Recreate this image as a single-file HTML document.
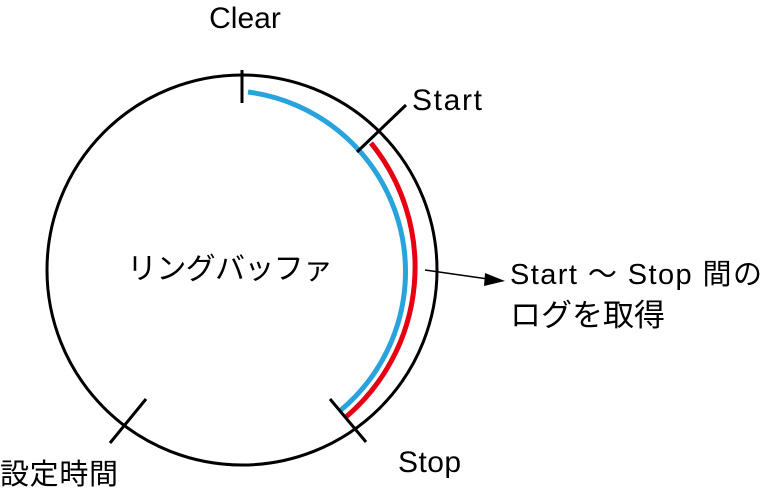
<!DOCTYPE html>
<html><head><meta charset="utf-8"><style>
body{margin:0;background:#fff}
svg text{font-family:"Liberation Sans","Noto Sans CJK JP",sans-serif;fill:#000}
</style></head><body>
<svg width="771" height="492" viewBox="0 0 771 492" xmlns="http://www.w3.org/2000/svg">
<circle cx="242" cy="270" r="195" fill="none" stroke="#000" stroke-width="3"/>
<path d="M248 92 A181 181 0 0 1 341 410" fill="none" stroke="#29a3dd" stroke-width="5"/>
<path d="M371 143 A197 197 0 0 1 346 417" fill="none" stroke="#e60012" stroke-width="5"/>
<line x1="242" y1="70" x2="242" y2="103" stroke="#000" stroke-width="3"/>
<line x1="357" y1="152" x2="406" y2="105" stroke="#000" stroke-width="3"/>
<line x1="330" y1="399" x2="366" y2="442" stroke="#000" stroke-width="3"/>
<line x1="146" y1="399" x2="110" y2="443" stroke="#000" stroke-width="3"/>
<line x1="425" y1="270" x2="488" y2="279" stroke="#000" stroke-width="1.5"/>
<polygon points="505,281 485,273 484,286" fill="#000"/>
<text x="245" y="28" font-size="30" text-anchor="middle">Clear</text>
<text x="412" y="110" font-size="30" textLength="70">Start</text>
<text x="398" y="472" font-size="30" textLength="63">Stop</text>
<text x="0" y="484" font-size="29" textLength="118">設定時間</text>
<text x="510" y="284" font-size="29" textLength="252">Start ～ Stop 間の</text>
<text x="510" y="326" font-size="31" textLength="155">ログを取得</text>
<text x="230" y="279" font-size="30" textLength="206" text-anchor="middle">リングバッファ</text>
</svg>
</body></html>
